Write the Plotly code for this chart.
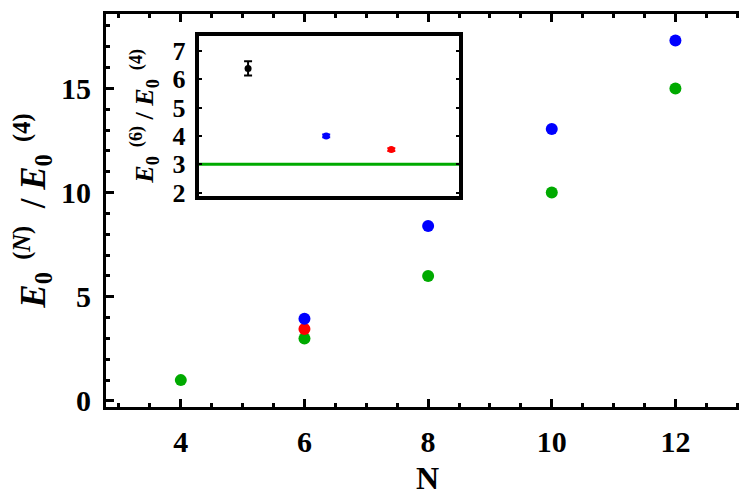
import plotly.graph_objects as go

# Main chart data
N_green = [4, 6, 8, 10, 12]
E_green = [1, 3, 6, 10, 15]
N_blue = [6, 8, 10, 12]
E_blue = [3.95, 8.4, 13.05, 17.3]
N_red = [6]
E_red = [3.45]

# Inset data
inset_x = [0.19, 0.49, 0.74]
inset_y = [6.38, 4.0, 3.52]
inset_err = [0.25, 0.05, 0.05]
inset_colors = ["black", "blue", "red"]
inset_line_y = 3

GREEN = "rgb(0,170,0)"
FONT = "Times New Roman, Liberation Serif, serif"
SP = "&nbsp;"

fig = go.Figure()
fig.add_trace(go.Scatter(x=N_green, y=E_green, mode="markers",
                         marker=dict(color=GREEN, size=12), showlegend=False))
fig.add_trace(go.Scatter(x=N_red, y=E_red, mode="markers",
                         marker=dict(color="red", size=12), showlegend=False))
fig.add_trace(go.Scatter(x=N_blue, y=E_blue, mode="markers",
                         marker=dict(color="blue", size=12), showlegend=False))

# inset
fig.add_trace(go.Scatter(x=[0, 1], y=[inset_line_y, inset_line_y], mode="lines",
                         line=dict(color=GREEN, width=3), xaxis="x2", yaxis="y2",
                         showlegend=False))
for xi, yi, ei, ci in zip(inset_x, inset_y, inset_err, inset_colors):
    fig.add_trace(go.Scatter(x=[xi], y=[yi], mode="markers",
                             error_y=dict(type="data", array=[ei], color=ci,
                                          thickness=2, width=4),
                             marker=dict(color=ci, size=7),
                             xaxis="x2", yaxis="y2", showlegend=False))

axis_common = dict(showline=True, linecolor="black", linewidth=3, mirror="ticks",
                   ticks="inside", tickcolor="black", tickwidth=3, ticklen=8,
                   showgrid=False, zeroline=False)

main_ytitle = (f"<i>E</i><sub>0</sub><sup>{SP}{SP}(<i>N</i>)</sup>{SP}{SP}/{SP}"
               f"<i>E</i><sub>0</sub><sup>{SP}{SP}(4)</sup>")
inset_ytitle = (f"<i>E</i><sub>0</sub><sup>{SP}{SP}(6)</sup>{SP}/{SP}"
                f"<i>E</i><sub>0</sub><sup>{SP}{SP}(4)</sup>")

fig.update_layout(
    width=747, height=497,
    margin=dict(l=98, r=4, t=3, b=98),
    paper_bgcolor="white", plot_bgcolor="white",
    font=dict(family=FONT, color="black"),
    xaxis=dict(range=[2.79, 13.19], dtick=2, tick0=0,
               minor=dict(dtick=0.5, ticks="inside", ticklen=4, tickwidth=3, tickcolor="black"),
               tickfont=dict(family=FONT, size=30, color="black", weight="bold"),
               ticklabelstandoff=6,
               title=dict(text="N", font=dict(family=FONT, size=32, color="black", weight="bold"),
                          standoff=10),
               **axis_common),
    yaxis=dict(range=[-0.29, 18.57], dtick=5, tick0=0,
               minor=dict(dtick=1, ticks="inside", ticklen=4, tickwidth=3, tickcolor="black"),
               tickfont=dict(family=FONT, size=30, color="black", weight="bold"),
               ticklabelstandoff=6,
               title=dict(text=main_ytitle,
                          font=dict(family=FONT, size=35, color="black", weight="bold"),
                          standoff=8),
               **axis_common),
    xaxis2=dict(domain=[0.144, 0.549], anchor="y2", range=[0, 1],
                showticklabels=False, showline=True, linecolor="black", linewidth=4,
                mirror=True, ticks="", showgrid=False, zeroline=False),
    yaxis2=dict(domain=[0.538, 0.944], anchor="x2", range=[1.9, 7.52], dtick=1,
                tickfont=dict(family=FONT, size=26, color="black", weight="bold"),
                ticklabelstandoff=4,
                showline=True, linecolor="black", linewidth=4, mirror="ticks",
                ticks="inside", ticklen=3, tickwidth=2, tickcolor="black",
                showgrid=False, zeroline=False,
                title=dict(text=inset_ytitle,
                           font=dict(family=FONT, size=26, color="black", weight="bold"),
                           standoff=12)),
)

fig.write_html("out.html")
